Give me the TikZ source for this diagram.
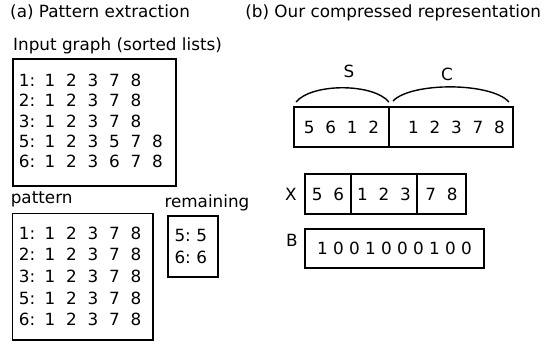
\documentclass[tikz,border=0pt]{standalone}
\usepackage{fontspec}
\setmainfont{DejaVu Sans}
\newcommand\dg[1]{\makebox[21.5pt]{#1}}
\newcommand\lb[2]{\makebox[#1][l]{#2}}
\begin{document}
\begin{tikzpicture}[x=1pt,y=-1pt,
  every node/.style={font=\fontsize{16.8}{20}\selectfont, inner sep=0pt, outer sep=0pt},
  frame/.style={draw, line width=1.4pt},
  txt/.style={anchor=base west},
  brace/.style={line width=1.4pt}]
\useasboundingbox (0,0) rectangle (542,341);
% titles
\node[txt] (ta) at (10.2,17) {(a) Pattern extraction};
\node[txt] (tb) at (245.3,17) {(b) Our compressed representation};
% input graph
\node[txt] (tin) at (13.2,50) {Input graph (sorted lists)};
\node[frame, minimum width=163pt, minimum height=127pt] (inbox) at (94.5,122.5) {};
\node[txt] (i1) at (19,86)    {\lb{20.3pt}{1:}\dg{1}\dg{2}\dg{3}\dg{7}\dg{8}};
\node[txt] (i2) at (19,106.5) {\lb{20.3pt}{2:}\dg{1}\dg{2}\dg{3}\dg{7}\dg{8}};
\node[txt] (i3) at (19,127)   {\lb{20.3pt}{3:}\dg{1}\dg{2}\dg{3}\dg{7}\dg{8}};
\node[txt] (i5) at (19,147.3) {\lb{20.3pt}{5:}\dg{1}\dg{2}\dg{3}\dg{5}\dg{7}\dg{8}};
\node[txt] (i6) at (19,167.6) {\lb{20.3pt}{6:}\dg{1}\dg{2}\dg{3}\dg{6}\dg{7}\dg{8}};
% pattern
\node[txt] (tpat) at (10.8,203) {pattern};
\node[frame, minimum width=140.7pt, minimum height=126.5pt] (patbox) at (82.65,276.75) {};
\node[txt] (p1) at (19,239)   {\lb{20.3pt}{1:}\dg{1}\dg{2}\dg{3}\dg{7}\dg{8}};
\node[txt] (p2) at (19,260.7) {\lb{20.3pt}{2:}\dg{1}\dg{2}\dg{3}\dg{7}\dg{8}};
\node[txt] (p3) at (19,282.4) {\lb{20.3pt}{3:}\dg{1}\dg{2}\dg{3}\dg{7}\dg{8}};
\node[txt] (p5) at (19,304)   {\lb{20.3pt}{5:}\dg{1}\dg{2}\dg{3}\dg{7}\dg{8}};
\node[txt] (p6) at (19,325.7) {\lb{20.3pt}{6:}\dg{1}\dg{2}\dg{3}\dg{7}\dg{8}};
% remaining
\node[txt] (trem) at (164.5,207) {remaining};
\node[frame, minimum width=50pt, minimum height=61pt] (rembox) at (193,246.5) {};
\node[txt] (r5) at (174.5,241.7) {\lb{16.5pt}{5:}\dg{5}};
\node[txt] (r6) at (174.5,263.3) {\lb{16.5pt}{6:}\dg{6}};
% S and C
\node[frame, minimum width=95pt, minimum height=40pt] (sbox) at (341.5,127) {\dg{5}\dg{6}\dg{1}\dg{2}};
\node[frame, minimum width=124pt, minimum height=40pt] (cbox) at (451,127) {\hspace{11pt}\dg{1}\dg{2}\dg{3}\dg{7}\dg{8}};
\node (ls) at (349,71) {S};
\node (lc) at (447,74) {C};
\coordinate (s1) at (296,102);
\coordinate (s2) at (389,102);
\coordinate (c1) at (393,101);
\coordinate (c2) at (509,102);
\draw[brace] (s1) .. controls (312,83) and (373,83) .. (s2);
\draw[brace] (c1) .. controls (411,82) and (491,82) .. (c2);
% X
\node (lx) at (291,194) {X};
\node[frame, minimum width=46pt, minimum height=40pt] (x1) at (328,194) {\dg{5}\dg{6}};
\node[frame, minimum width=66pt, minimum height=40pt] (x2) at (384,194) {\dg{1}\dg{2}\dg{3}};
\node[frame, minimum width=49pt, minimum height=40pt] (x3) at (441.5,194) {\dg{7}\dg{8}};
% B
\node (lbb) at (292,240) {B};
\node[frame, minimum width=179pt, minimum height=39pt] (bbox) at (394.5,248.5) {1 0 0 1 0 0 0 1 0 0\hspace{4pt}};
\end{tikzpicture}
\end{document}
